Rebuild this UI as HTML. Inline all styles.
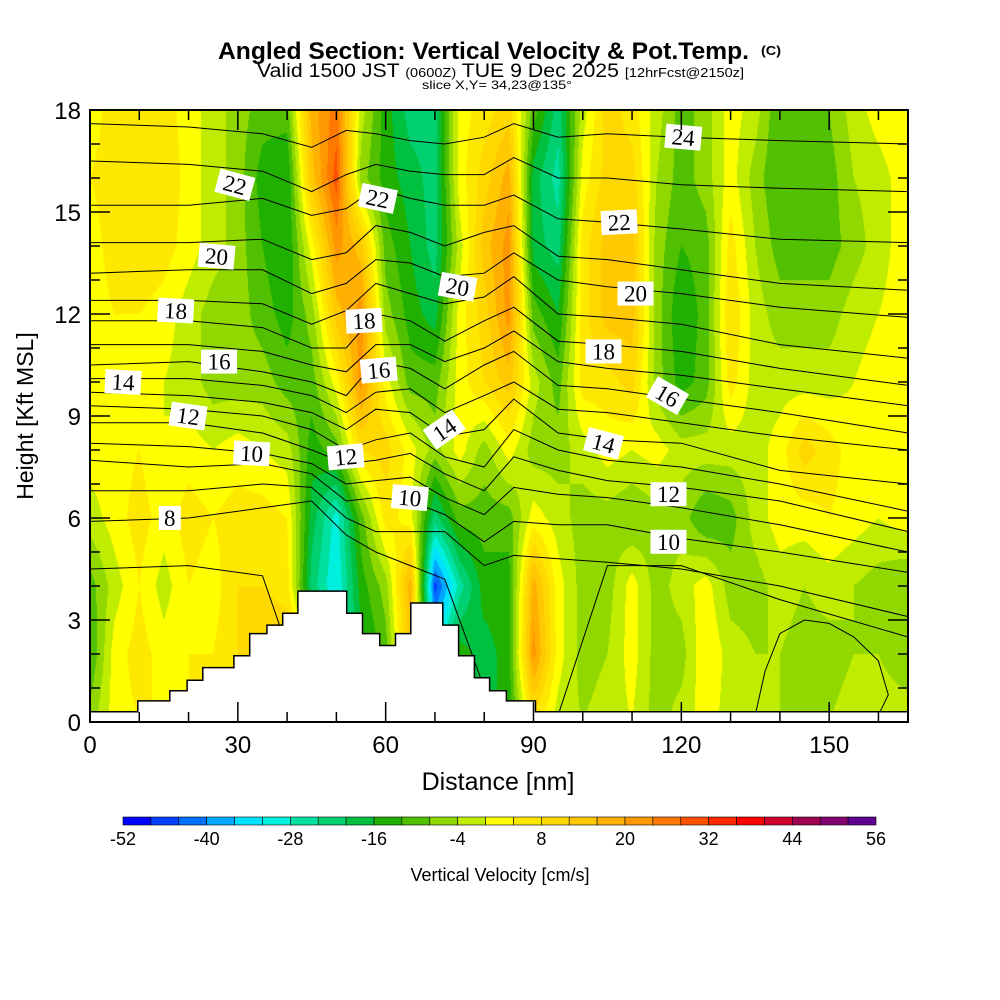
<!DOCTYPE html>
<html><head><meta charset="utf-8"><style>
html,body{margin:0;padding:0;background:#fff;}
#wrap{position:relative;width:1000px;height:1000px;overflow:hidden;}
canvas{position:absolute;left:90px;top:110px;}
svg{position:absolute;left:0;top:0;}
</style></head><body>
<div id="wrap">
<canvas id="field" width="818" height="612"></canvas>
<svg id="ov" width="1000" height="1000" xmlns="http://www.w3.org/2000/svg" font-family="'Liberation Sans', sans-serif">
<g>
<text x="218" y="59" font-size="24" font-weight="bold" textLength="531" lengthAdjust="spacingAndGlyphs">Angled Section: Vertical Velocity &amp; Pot.Temp.</text>
<text x="761" y="55" font-size="13" font-weight="bold" textLength="20" lengthAdjust="spacingAndGlyphs">(C)</text>
<text x="257" y="77" font-size="19" textLength="487" lengthAdjust="spacingAndGlyphs">Valid 1500 JST <tspan font-size="13">(0600Z)</tspan> TUE 9 Dec 2025 <tspan font-size="13">[12hrFcst@2150z]</tspan></text>
<text x="422" y="89" font-size="12" textLength="150" lengthAdjust="spacingAndGlyphs">slice X,Y= 34,23@135°</text>
</g>
<text transform="translate(33,416) rotate(-90)" text-anchor="middle" font-size="23">Height [Kft MSL]</text>
<text x="498" y="790" text-anchor="middle" font-size="25">Distance [nm]</text>
<text x="500" y="881" text-anchor="middle" font-size="18">Vertical Velocity [cm/s]</text>
<g id="contours"></g>
<g id="terrain"></g>
<g id="labels"></g>
<g id="axes"></g>
<g id="cbar"></g>
</svg>
</div>
<script>
// ---- data ----
const distances = [0,5,10,15,20,25,30,35,40,45,50,55,60,65,70,75,80,85,90,95,100,105,110,115,120,125,130,135,140,145,150,155,160,165];
const heights = [0,2,4,6,8,10,12,14,16,18];
// vertical velocity (cm/s), one array per distance column, bottom to top
const velocityColumns = [
[-6,-12,-10,-2,2,2,2,2,4,2],[2,2,-2,2,2,2,4,6,6,6],[4,6,4,6,4,2,4,8,8,8],[4,2,-2,2,0,0,2,6,8,6],
[4,4,4,6,2,-2,-2,2,2,2],[4,4,2,4,0,-6,-6,-2,-2,-2],[6,8,8,6,2,-6,-6,-6,-6,-6],[10,12,8,6,0,-6,-10,-12,-14,-10],
[10,12,6,4,-2,-10,-14,-16,-16,-10],[6,6,-22,-18,-14,-10,-6,2,14,18],[0,-30,-32,-30,-10,2,14,22,30,26],
[0,-18,-14,-10,8,22,22,14,-6,-2],[0,-10,-6,6,10,2,-6,-10,-14,-14],[0,14,18,2,2,-10,-14,-16,-18,-22],
[0,-30,-46,-22,-6,-10,-18,-22,-22,-22],[-14,-14,-26,-10,2,2,2,-2,2,2],[-18,-18,-14,-10,-6,8,10,14,10,6],
[-14,-14,-14,-10,2,14,22,22,18,10],[6,22,18,2,-6,-2,-10,-18,-18,-10],[-2,2,2,-2,-6,-10,-16,-22,-26,-22],
[-4,-6,-6,-6,-2,6,6,6,2,-2],[-2,-4,-6,-6,2,6,14,14,10,10],[0,2,2,-8,0,10,14,14,10,6],
[-6,-6,-6,-6,2,-6,-6,-6,-4,-2],[-2,-6,-2,-6,-2,-14,-16,-12,-10,-10],[2,4,2,-12,-2,-10,-10,-10,-6,-6],
[-2,-2,-6,-10,-2,6,8,6,2,2],[-4,-4,-6,-2,-2,-2,-2,-4,-6,-2],[-4,-4,-2,2,2,-2,-6,-10,-12,-12],
[-6,-6,-4,2,10,-2,-6,-10,-12,-12],[-4,-6,-2,4,6,-2,-6,-10,-10,-8],[-2,-4,-4,2,2,0,-2,-6,-4,-2],
[-2,-4,-6,0,2,2,0,-2,-2,2],[-2,-6,-8,2,2,2,2,2,2,4]];
const levelColors = ['#0000ff','#0040ff','#0070ff','#00a8ff','#00e0ff','#00f0e0','#00e0a0','#00d070','#00c040','#20b000','#50c000','#90d800','#c0ec00','#ffff00','#ffe800','#ffd800','#ffc800','#ffb000','#ff9800','#ff7800','#ff5000','#ff2800','#ff0000','#d00030','#a00050','#800070','#600090'];
const colorbarLabels = [-52,-40,-28,-16,-4,8,20,32,44,56];
const contourX = [0,20,35,45,52,58,65,72,80,86,95,105,120,140,166];
const thetaLines = {
24:[17.6,17.5,17.3,16.9,17.4,17.3,17.1,17.0,17.2,17.6,17.2,17.3,17.2,17.1,17.0],
23:[16.5,16.4,16.2,15.6,16.1,16.4,16.2,16.1,16.1,16.6,16.0,16.0,15.8,15.7,15.6],
22:[15.2,15.2,15.4,14.9,15.1,15.7,15.4,15.2,15.2,15.5,14.8,14.7,14.5,14.2,14.1],
21:[14.1,14.1,14.2,13.6,13.8,14.6,14.4,14.0,14.4,14.6,13.7,13.6,13.3,12.9,12.7],
20:[13.2,13.3,13.3,12.6,12.9,13.6,13.5,13.1,13.2,13.8,13.0,12.8,12.6,12.2,11.9],
19:[12.4,12.4,12.3,11.7,12.1,12.9,12.6,12.3,12.5,13.1,12.0,11.9,11.7,11.1,10.7],
18:[11.8,11.8,11.6,11.0,11.0,12.0,11.8,11.2,11.8,12.2,11.2,11.1,10.9,10.4,9.9],
17:[11.1,11.1,10.9,10.5,10.3,11.1,11.1,10.6,11.0,11.5,10.6,10.4,10.2,9.8,9.3],
16:[10.5,10.6,10.3,10.0,9.6,10.6,10.4,9.8,10.5,10.9,9.9,9.8,9.5,9.1,8.5],
15:[10.1,10.1,9.9,9.6,9.1,9.7,9.8,9.1,9.6,10.0,9.2,9.1,8.8,8.4,8.0],
14:[9.7,9.6,9.4,9.1,8.6,9.2,9.1,8.4,8.6,9.5,8.5,8.3,8.2,7.4,7.0],
13:[9.3,9.2,9.0,8.6,8.0,8.3,8.5,7.8,7.5,8.6,8.0,7.7,7.5,7.0,6.2],
12:[8.8,8.8,8.5,8.0,7.6,7.7,7.9,7.3,6.8,7.8,7.4,7.1,6.9,6.5,5.6],
11:[8.2,8.1,7.9,7.6,7.0,7.1,7.2,6.6,6.1,6.9,6.7,6.6,6.3,5.8,5.0],
10:[7.7,7.5,7.6,7.3,6.5,6.6,6.5,6.1,5.3,5.9,5.8,5.8,5.4,5.0,4.4],
9:[6.8,6.8,7.0,6.9,6.0,5.6,5.6,5.6,4.6,4.9,4.8,4.7,4.5,4.0,3.1],
8:[5.9,6.0,6.3,6.5,5.5,5.0,4.6,4.2,1.0,0.2,0.2,4.6,4.6,3.6,2.5],
7:[4.5,4.6,4.3,0.1,0.1,0.1,0.1,0.1,0.1,0.1,0.1,0.1,0.1,0.1,0.1]};
// closed low-level contour, bottom right
const loopX = [135,137,140,145,150,155,160,162,160];
const loopY = [0.2,1.5,2.6,3.0,2.9,2.5,1.8,0.8,0.2];
const terrainSteps = [[9.7,0.62],[16.2,0.92],[19.7,1.23],[22.9,1.6],[29.2,1.95],[32.4,2.6],[35.9,2.85],[39.1,3.2],[42.2,3.85],[52.1,3.2],[55.3,2.6],[58.8,2.25],[62.0,2.6],[65.1,3.5],[71.6,2.85],[74.8,1.95],[78.0,1.3],[81.1,0.92],[84.5,0.62],[90.4,0.3]];
const labelText = ['22','20','18','16','14','12','10','8','22','18','16','12','10','14','20','24','22','20','18','16','14','12','10'];
const labelX = [29.4,25.7,17.4,26.2,6.7,19.9,32.8,16.2,58.4,55.6,58.6,51.9,64.9,71.9,74.6,120.4,107.4,110.7,104.2,117.2,104.2,117.4,117.4];
const labelY = [15.8,13.7,12.1,10.6,10.0,9.0,7.9,6.0,15.4,11.8,10.35,7.8,6.6,8.6,12.8,17.2,14.7,12.6,10.9,9.6,8.2,6.7,5.3];
const labelRot = [15,5,3,0,3,8,3,0,12,-3,-5,-5,5,-35,10,5,-3,0,0,30,15,0,0];
const xTicks = [0,30,60,90,120,150];
const yTicks = [0,3,6,9,12,15,18];

// ---- scales ----
const X0=90, X1=908, Y0=722, Y1=110, XMAX=166, YMAX=18, BASE=0.3;
const sx = v => X0 + v/XMAX*(X1-X0);
const sy = v => Y0 - v/YMAX*(Y0-Y1);
const NS='http://www.w3.org/2000/svg';
function mk(tag, attrs, parent){const e=document.createElementNS(NS,tag);for(const k in attrs)e.setAttribute(k,attrs[k]);parent.appendChild(e);return e;}

// ---- field ----
function hex(c){return [parseInt(c.substr(1,2),16),parseInt(c.substr(3,2),16),parseInt(c.substr(5,2),16)];}
const rgb = levelColors.map(hex);
const cv=document.getElementById('field'), ctx=cv.getContext('2d');
const img=ctx.createImageData(818,612);
const dStep=distances[1]-distances[0], hStep=heights[1]-heights[0];
for(let py=0;py<612;py++){
  const kft=(612-py-0.5)/612*YMAX;
  for(let px=0;px<818;px++){
    const nm=(px+0.5)/818*XMAX;
    let fi=Math.min(nm/dStep, distances.length-1.0001), fj=Math.min(kft/hStep, heights.length-1.0001);
    const i=Math.floor(fi), j=Math.floor(fj), a=fi-i, b=fj-j;
    const v=(1-a)*(1-b)*velocityColumns[i][j]+a*(1-b)*velocityColumns[i+1][j]+(1-a)*b*velocityColumns[i][j+1]+a*b*velocityColumns[i+1][j+1];
    let k=Math.floor((v+52)/4); k=Math.max(0,Math.min(26,k));
    const o=(py*818+px)*4, c=rgb[k];
    img.data[o]=c[0];img.data[o+1]=c[1];img.data[o+2]=c[2];img.data[o+3]=255;
  }
}
ctx.putImageData(img,0,0);

// ---- contours ----
const cg=document.getElementById('contours');
for(const th in thetaLines){
  const hs=thetaLines[th];
  const d=hs.map((h,i)=>(i?'L':'M')+sx(contourX[i]).toFixed(1)+','+sy(h).toFixed(1)).join(' ');
  const p=mk('path',{d:d,fill:'none',stroke:'#000','stroke-width':'1'},cg);
  
  
}
{
  const d=loopX.map((x,i)=>(i?'L':'M')+sx(x).toFixed(1)+','+sy(loopY[i]).toFixed(1)).join(' ');
  const p=mk('path',{d:d,fill:'none',stroke:'#000','stroke-width':'1'},cg);
  
  
}

// ---- terrain ----
const tg=document.getElementById('terrain');
let td='M'+sx(0)+','+sy(BASE);
let prevH=BASE;
for(const [x,h] of terrainSteps){td+=' L'+sx(x).toFixed(1)+','+sy(prevH).toFixed(1)+' L'+sx(x).toFixed(1)+','+sy(h).toFixed(1);prevH=h;}
td+=' L'+sx(XMAX)+','+sy(BASE)+' L'+sx(XMAX)+','+sy(0)+' L'+sx(0)+','+sy(0)+' Z';
const tp=mk('path',{d:td,fill:'#fff',stroke:'#000','stroke-width':'1.5'},tg);



// ---- labels ----
const lg=document.getElementById('labels');
labelText.forEach((t,i)=>{
  const g=mk('g',{transform:`translate(${sx(labelX[i]).toFixed(1)},${sy(labelY[i]).toFixed(1)}) rotate(${labelRot[i]})`},lg);
  
  
  const w=t.length>1?36:22;
  mk('rect',{x:-w/2,y:-12,width:w,height:24,fill:'#fff'},g);
  const tx=mk('text',{x:0,y:8,'text-anchor':'middle','font-size':'23','font-family':"'Liberation Serif', serif"},g);
  tx.textContent=t;
});

// ---- axes ----
const ag=document.getElementById('axes');
const fr=mk('rect',{x:X0,y:Y1,width:X1-X0,height:Y0-Y1,fill:'none',stroke:'#000','stroke-width':'2'},ag);


for(let v=0;v<=XMAX;v+=10){
  const L=(v%30===0)?20:10, x=sx(v);
  mk('line',{x1:x,y1:Y0,x2:x,y2:Y0-L,stroke:'#000','stroke-width':'1.5'},ag);
  mk('line',{x1:x,y1:Y1,x2:x,y2:Y1+L,stroke:'#000','stroke-width':'1.5'},ag);
}
for(let v=0;v<=YMAX;v+=1){
  const L=(v%3===0)?20:10, y=sy(v);
  mk('line',{x1:X0,y1:y,x2:X0+L,y2:y,stroke:'#000','stroke-width':'1.5'},ag);
  mk('line',{x1:X1,y1:y,x2:X1-L,y2:y,stroke:'#000','stroke-width':'1.5'},ag);
}
xTicks.forEach(v=>{
  const t=mk('text',{x:sx(v),y:753,'text-anchor':'middle','font-size':'24'},ag);
  
  
  t.textContent=v;
});
yTicks.forEach(v=>{
  const t=mk('text',{x:81,y:sy(v)+9,'text-anchor':'end','font-size':'24'},ag);
  
  
  t.textContent=v;
});

// ---- colorbar ----
const bg=document.getElementById('cbar');
const CB0=123, CB1=876, bw=(CB1-CB0)/levelColors.length;
levelColors.forEach((c,i)=>{
  const r=mk('rect',{x:(CB0+i*bw).toFixed(2),y:817,width:bw.toFixed(2),height:8,fill:c,stroke:'#000','stroke-width':'0.6'},bg);
  
  
});
colorbarLabels.forEach(v=>{
  const t=mk('text',{x:CB0+(v+52)/4*bw,y:845,'text-anchor':'middle','font-size':'18'},bg);
  
  
  t.textContent=v;
});
</script>
</body></html>
